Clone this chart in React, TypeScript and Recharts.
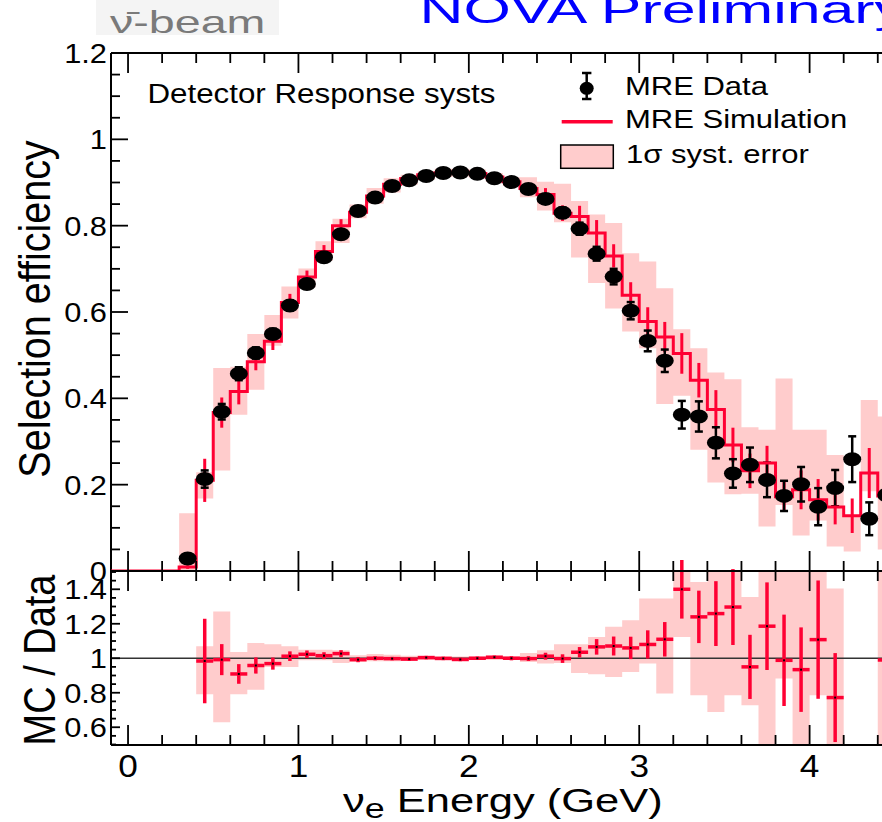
import React from 'react';
import { ComposedChart, XAxis, YAxis, Line, Area, Scatter, ErrorBar, ReferenceLine } from 'recharts';

const FONT = '"Liberation Sans", Arial, Helvetica, sans-serif';
const RED = '#ff0033';
const PINK = '#ffcccc';

// bin centres in GeV, every bin is 0.1 GeV wide
const energy = [
    0.35, 0.45, 0.55, 0.65, 0.75, 0.85, 0.95, 1.05, 1.15, 1.25,
    1.35, 1.45, 1.55, 1.65, 1.75, 1.85, 1.95, 2.05, 2.15, 2.25,
    2.35, 2.45, 2.55, 2.65, 2.75, 2.85, 2.95, 3.05, 3.15, 3.25,
    3.35, 3.45, 3.55, 3.65, 3.75, 3.85, 3.95, 4.05, 4.15, 4.25,
    4.35, 4.45,
];
const binHalfWidth = 0.05;
// simulation is zero from the start of the axis up to the first filled bin
const histStart = -0.1;

const dataEff = [
    0.029, 0.213, 0.369, 0.457, 0.505, 0.549, 0.615, 0.665, 0.727, 0.780,
    0.834, 0.865, 0.892, 0.905, 0.915, 0.922, 0.923, 0.920, 0.910, 0.901,
    0.885, 0.862, 0.830, 0.793, 0.735, 0.682, 0.603, 0.533, 0.487, 0.362,
    0.358, 0.297, 0.226, 0.246, 0.211, 0.174, 0.201, 0.149, 0.192, 0.259,
    0.121, 0.176,
];
const dataErr = [
    0.010, 0.020, 0.018, 0.015, 0.013, 0.012, 0.012, 0.011, 0.010, 0.010,
    0.009, 0.009, 0.008, 0.008, 0.008, 0.008, 0.008, 0.008, 0.008, 0.009,
    0.010, 0.011, 0.012, 0.014, 0.016, 0.018, 0.020, 0.024, 0.026, 0.032,
    0.035, 0.036, 0.033, 0.040, 0.040, 0.035, 0.040, 0.043, 0.042, 0.053,
    0.038, 0.040,
];
const simEff = [
    0.009, 0.210, 0.367, 0.416, 0.485, 0.532, 0.622, 0.681, 0.740, 0.800,
    0.831, 0.869, 0.896, 0.909, 0.918, 0.922, 0.924, 0.921, 0.913, 0.902,
    0.886, 0.872, 0.829, 0.821, 0.783, 0.730, 0.639, 0.578, 0.542, 0.504,
    0.442, 0.374, 0.292, 0.232, 0.250, 0.172, 0.188, 0.165, 0.148, 0.128,
    0.227, 0.174,
];
const simErr = [
    0.004, 0.050, 0.035, 0.030, 0.020, 0.020, 0.020, 0.015, 0.015, 0.015,
    0.010, 0.010, 0.008, 0.008, 0.008, 0.008, 0.008, 0.008, 0.008, 0.010,
    0.012, 0.015, 0.018, 0.025, 0.030, 0.027, 0.030, 0.033, 0.035, 0.047,
    0.040, 0.045, 0.040, 0.040, 0.040, 0.035, 0.045, 0.048, 0.040, 0.040,
    0.058, 0.045,
];
const systLo = [
    0.000, 0.168, 0.233, 0.362, 0.420, 0.522, 0.585, 0.657, 0.718, 0.760,
    0.817, 0.851, 0.877, 0.895, 0.906, 0.913, 0.914, 0.911, 0.901, 0.892,
    0.866, 0.835, 0.808, 0.726, 0.667, 0.608, 0.555, 0.516, 0.387, 0.406,
    0.281, 0.205, 0.178, 0.179, 0.103, 0.153, 0.082, 0.117, 0.057, 0.045,
    0.185, 0.050,
];
const systHi = [
    0.134, 0.229, 0.470, 0.473, 0.549, 0.593, 0.659, 0.701, 0.764, 0.816,
    0.849, 0.887, 0.910, 0.918, 0.926, 0.932, 0.932, 0.930, 0.922, 0.912,
    0.912, 0.902, 0.897, 0.857, 0.826, 0.806, 0.736, 0.717, 0.655, 0.560,
    0.516, 0.460, 0.444, 0.333, 0.327, 0.446, 0.327, 0.327, 0.269, 0.128,
    0.396, 0.358,
];

// lower panel, MC / Data (null where it falls off the panel)
const ratio = [
    null, 0.984, 0.992, 0.909, 0.958, 0.969, 1.012, 1.023, 1.015, 1.027,
    0.992, 1.000, 0.998, 0.995, 1.004, 0.999, 0.993, 1.000, 1.006, 1.000,
    0.998, 1.012, 0.998, 1.035, 1.066, 1.071, 1.060, 1.080, 1.110, 1.400,
    1.240, 1.259, 1.297, 0.950, 1.186, 0.988, 0.934, 1.108, 0.772, null,
    null, 0.990,
];
const ratioErr = [
    null, 0.245, 0.090, 0.057, 0.047, 0.035, 0.028, 0.022, 0.020, 0.020,
    0.015, 0.012, 0.010, 0.010, 0.010, 0.010, 0.010, 0.010, 0.010, 0.012,
    0.014, 0.020, 0.025, 0.030, 0.045, 0.055, 0.065, 0.082, 0.100, 0.170,
    0.152, 0.188, 0.220, 0.186, 0.254, 0.265, 0.245, 0.343, 0.258, null,
    null, 0.300,
];
const ratioSystLo = [
    null, 0.791, 0.629, 0.791, 0.818, 0.950, 0.950, 0.988, 0.988, 0.973,
    0.979, 0.983, 0.983, 0.988, 0.990, 0.990, 0.990, 0.990, 0.990, 0.990,
    0.979, 0.969, 0.973, 0.915, 0.907, 0.892, 0.921, 0.969, 0.795, 1.124,
    0.786, 0.689, 0.786, 0.728, 0.400, 0.882, 0.400, 0.786, 0.400, null,
    null, 0.400,
];
const ratioSystHi = [
    null, 1.070, 1.271, 1.037, 1.089, 1.081, 1.070, 1.050, 1.050, 1.046,
    1.017, 1.025, 1.020, 1.015, 1.012, 1.012, 1.010, 1.010, 1.012, 1.012,
    1.031, 1.046, 1.081, 1.081, 1.124, 1.182, 1.220, 1.346, 1.346, 1.600,
    1.442, 1.600, 1.600, 1.355, 1.600, 1.600, 1.600, 1.600, 1.404, null,
    null, 1.600,
];

const xTicks = [
    0, 0.2, 0.4, 0.6, 0.8, 1, 1.2, 1.4, 1.6, 1.8, 2, 2.2, 2.4, 2.6, 2.8,
    3, 3.2, 3.4, 3.6, 3.8, 4, 4.2, 4.4, 4.6, 4.8,
];
const effTicks = [
    0, 0.05, 0.1, 0.15, 0.2, 0.25, 0.3, 0.35, 0.4, 0.45, 0.5, 0.55, 0.6,
    0.65, 0.7, 0.75, 0.8, 0.85, 0.9, 0.95, 1, 1.05, 1.1, 1.15, 1.2,
];
const ratioTicks = [
    0.5, 0.55, 0.6, 0.65, 0.7, 0.75, 0.8, 0.85, 0.9, 0.95, 1, 1.05, 1.1,
    1.15, 1.2, 1.25, 1.3, 1.35, 1.4, 1.45, 1.5,
];

// histogram outline: one row per bin low edge, closing row at the end of each run
const stepRows = (vals: any[], key: string) => {
    const rows: any[] = [];
    vals.forEach((v, i) => {
        rows.push({ x: energy[i] - binHalfWidth, [key]: v });
        if (v != null && vals[i + 1] == null) {
            rows.push({ x: energy[i] + binHalfWidth, [key]: v });
        }
    });
    return rows;
};

const bandRows = stepRows(energy.map((_, i) => [systLo[i], systHi[i]]), 'band');
const simRows = [{ x: histStart, sim: 0 }, ...stepRows(simEff, 'sim')];
const simPoints = energy.map((x, i) => ({ x, y: simEff[i], err: simErr[i] }));
const dataPoints = energy.map((x, i) => ({ x, y: dataEff[i], err: dataErr[i] }));
const ratioBandRows = stepRows(
    energy.map((_, i) => (ratioSystLo[i] == null ? null : [ratioSystLo[i], ratioSystHi[i]])),
    'band'
);
const ratioPoints = energy
    .map((x, i) => ({ x, y: ratio[i], err: ratioErr[i], xErr: binHalfWidth }))
    .filter(p => p.y != null);

const isMultiple = (v: number, step: number) => Math.abs(v / step - Math.round(v / step)) < 1e-6;
const fmt = (v: number) => String(Number(v.toFixed(2)));

const XTick = ({ x, y, payload, dir, label }: any) => {
    const major = isMultiple(payload.value, 1);
    return (
        <g>
            <line x1={x} x2={x} y1={y} y2={y + dir * (major ? 20 : 10)} stroke="#000" strokeWidth={1.8} />
            {label && major && (
                <text transform={`translate(${x},${y + 32}) scale(1.1,1)`} textAnchor="middle"
                    fontSize={32} fontFamily={FONT} fill="#000">{fmt(payload.value)}</text>
            )}
        </g>
    );
};

const YTick = ({ x, y, payload, majorLen, minorLen }: any) => {
    const major = isMultiple(payload.value, 0.2);
    return (
        <g>
            <line x1={x} x2={x + (major ? majorLen : minorLen)} y1={y} y2={y} stroke="#000" strokeWidth={1.8} />
            {major && (
                <text transform={`translate(${x - 4},${y + 10}) scale(1.1,1)`} textAnchor="end"
                    fontSize={28} fontFamily={FONT} fill="#000">{fmt(payload.value)}</text>
            )}
        </g>
    );
};

const DataMarker = (props: any) => <ellipse cx={props.cx} cy={props.cy} rx={9} ry={7} fill="#000" />;
const CentreDot = (props: any) => <rect x={props.cx - 1} y={props.cy - 1} width={2} height={2} fill="#000" />;
const NoMarker = () => <g />;

const X_DOMAIN = [-0.1, 5];
const frame = { stroke: '#000', strokeWidth: 2 };

const App: React.FC = () => {
    return (
        <div style={{ position: 'absolute', left: 0, top: 0, width: 882, height: 822, overflow: 'hidden', background: '#fff' }}>
            {/* upper panel: efficiency */}
            <div style={{ position: 'absolute', left: 0, top: 0 }}>
                <ComposedChart width={980} height={600} margin={{ top: 52, right: 0, bottom: 28, left: 0 }}>
                    <XAxis xAxisId="b" type="number" dataKey="x" domain={X_DOMAIN} allowDataOverflow ticks={xTicks}
                        interval={0} height={1} tickSize={0} tickMargin={0} tickLine={false} axisLine={frame}
                        tick={(p: any) => <XTick {...p} dir={-1} />} />
                    <XAxis xAxisId="t" orientation="top" type="number" dataKey="x" domain={X_DOMAIN} allowDataOverflow
                        ticks={xTicks} interval={0} height={1} tickSize={0} tickMargin={0} tickLine={false} axisLine={frame}
                        tick={(p: any) => <XTick {...p} dir={1} />} />
                    <YAxis yAxisId="e" type="number" domain={[0, 1.2]} allowDataOverflow ticks={effTicks} interval={0}
                        width={111} tickSize={0} tickMargin={0} tickLine={false} axisLine={frame}
                        tick={(p: any) => <YTick {...p} majorLen={17} minorLen={9} />} />
                    <Area xAxisId="b" yAxisId="e" data={bandRows} dataKey="band" type="stepAfter" stroke="none"
                        fill={PINK} fillOpacity={1} dot={false} activeDot={false} isAnimationActive={false} />
                    <Line xAxisId="b" yAxisId="e" data={simRows} dataKey="sim" type="stepAfter" stroke={RED}
                        strokeWidth={3} dot={false} activeDot={false} isAnimationActive={false} zIndex={600} />
                    <Scatter xAxisId="b" yAxisId="e" data={simPoints} dataKey="y" shape={NoMarker} isAnimationActive={false}>
                        <ErrorBar dataKey="err" direction="y" width={0} stroke={RED} strokeWidth={3} />
                    </Scatter>
                    <Scatter xAxisId="b" yAxisId="e" data={dataPoints} dataKey="y" shape={DataMarker} isAnimationActive={false}>
                        <ErrorBar dataKey="err" direction="y" width={4} stroke="#000" strokeWidth={2.5} />
                    </Scatter>
                </ComposedChart>
            </div>

            {/* lower panel: MC / Data */}
            <div style={{ position: 'absolute', left: 0, top: 560 }}>
                <ComposedChart width={980} height={262} margin={{ top: 10, right: 0, bottom: 76, left: 0 }}>
                    <XAxis xAxisId="b" type="number" dataKey="x" domain={X_DOMAIN} allowDataOverflow ticks={xTicks}
                        interval={0} height={1} tickSize={0} tickMargin={0} tickLine={false} axisLine={frame}
                        tick={(p: any) => <XTick {...p} dir={-1} label />} />
                    <XAxis xAxisId="t" orientation="top" type="number" dataKey="x" domain={X_DOMAIN} allowDataOverflow
                        ticks={xTicks} interval={0} height={1} tickSize={0} tickMargin={0} tickLine={false} axisLine={frame}
                        tick={(p: any) => <XTick {...p} dir={1} />} />
                    <YAxis yAxisId="r" type="number" domain={[0.497, 1.506]} allowDataOverflow ticks={ratioTicks} interval={0}
                        width={111} tickSize={0} tickMargin={0} tickLine={false} axisLine={frame}
                        tick={(p: any) => <YTick {...p} majorLen={9} minorLen={5} />} />
                    <Area xAxisId="b" yAxisId="r" data={ratioBandRows} dataKey="band" type="stepAfter" stroke="none"
                        fill={PINK} fillOpacity={1} dot={false} activeDot={false} isAnimationActive={false} />
                    <ReferenceLine xAxisId="b" yAxisId="r" y={1} stroke="#333" strokeWidth={1.5} />
                    <Scatter xAxisId="b" yAxisId="r" data={ratioPoints} dataKey="y" shape={CentreDot} isAnimationActive={false}>
                        <ErrorBar dataKey="err" direction="y" width={0} stroke={RED} strokeWidth={3.5} />
                        <ErrorBar dataKey="xErr" direction="x" width={0} stroke={RED} strokeWidth={3.5} />
                    </Scatter>
                </ComposedChart>
            </div>

            {/* titles, labels and legend */}
            <svg width={882} height={822} style={{ position: 'absolute', left: 0, top: 0, pointerEvents: 'none' }}
                fontFamily={FONT}>
                <rect x={96} y={0} width={183} height={35} fill="#f4f4f4" />
                <text transform="translate(110,33) scale(1.48,1)" fontSize={31.5} fill="#7a7a7a">{'\u03BD\u0304-beam'}</text>
                <text transform="translate(419.5,23) scale(1.58,1)" fontSize={38.5} fill="#0000ff">NOVA Preliminary</text>

                <text transform="translate(147.5,103.3) scale(1.16,1)" fontSize={27} fill="#000">Detector Response systs</text>

                <line x1={586.7} x2={586.7} y1={73} y2={99} stroke="#000" strokeWidth={2.5} />
                <line x1={582} x2={591.4} y1={73} y2={73} stroke="#000" strokeWidth={2.5} />
                <line x1={582} x2={591.4} y1={99} y2={99} stroke="#000" strokeWidth={2.5} />
                <ellipse cx={586.7} cy={88.3} rx={7} ry={6.5} fill="#000" />
                <text transform="translate(625,95) scale(1.17,1)" fontSize={26.5} fill="#000">MRE Data</text>

                <line x1={561.7} x2={612.7} y1={121.7} y2={121.7} stroke={RED} strokeWidth={3.5} />
                <text transform="translate(625,128.3) scale(1.17,1)" fontSize={26.5} fill="#000">MRE Simulation</text>

                <rect x={560.7} y={145} width={52.6} height={23.3} fill={PINK} stroke="#000" strokeWidth={1.5} />
                <text transform="translate(626,162.7) scale(1.17,1)" fontSize={26.5} fill="#000">1σ syst. error</text>

                <text transform="translate(50,309) rotate(-90) scale(1,1.13)" textAnchor="middle" fontSize={39.5} fill="#000">
                    Selection efficiency
                </text>
                <text transform="translate(55,660) rotate(-90) scale(1,1.18)" textAnchor="middle" fontSize={38} fill="#000">
                    MC / Data
                </text>
                <text transform="translate(343,812) scale(1.28,1)" fontSize={34} fill="#000">
                    <tspan>ν</tspan>
                    <tspan dy={6} fontSize={28}>e</tspan>
                    <tspan dy={-6}> Energy (GeV)</tspan>
                </text>
            </svg>
        </div>
    );
};

export default App;
